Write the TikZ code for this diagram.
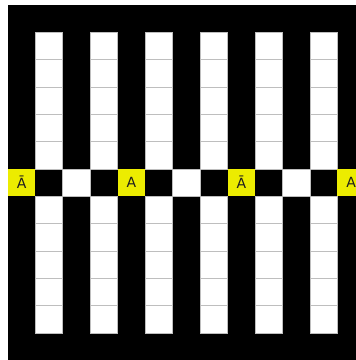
\documentclass[tikz,border=0pt]{standalone}
\usepackage{fontspec}
\setmainfont{DejaVu Sans}
\definecolor{cellyellow}{RGB}{236,236,0}
\definecolor{cellline}{RGB}{190,190,190}
\definecolor{labelink}{RGB}{30,30,30}
\tikzset{
  cell/.style={minimum width=27.45pt,minimum height=27.33pt,inner sep=0pt,outer sep=0pt,anchor=north west},
  whitecell/.style={cell,fill=white,draw=cellline,line width=0.8pt},
  ycell/.style={cell,fill=cellyellow,text=labelink,font=\fontsize{14}{15}\selectfont}
}
\begin{document}
\begin{tikzpicture}[x=1pt,y=-1pt]
\useasboundingbox (0,0) rectangle (356,360);
\clip (0,0) rectangle (356,360);
\fill[black] (8,5) rectangle (370,370);
% white columns above and below the middle row
\foreach \i in {1,3,5,7,9,11}{
  \foreach \j in {1,...,5,7,8,9,10,11}{
    \node[whitecell] (w\i-\j) at ({8+\i*27.45},{5+\j*27.33}) {};
  }
}
% middle row
\foreach \i in {2,6,10}{
  \node[whitecell] (m\i) at ({8+\i*27.45},{5+6*27.33}) {};
}
\node[ycell] (y0) at ({8+0*27.45},{5+6*27.33}) {Ā};
\node[ycell] (y4) at ({8+4*27.45},{5+6*27.33}) {A};
\node[ycell] (y8) at ({8+8*27.45},{5+6*27.33}) {Ā};
\node[ycell] (y12) at ({8+12*27.45},{5+6*27.33}) {A};
\end{tikzpicture}
\end{document}
